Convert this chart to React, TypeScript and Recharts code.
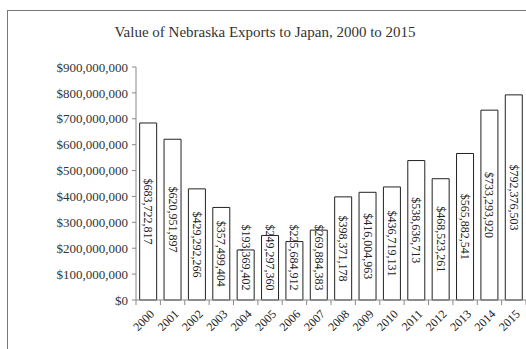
import { Bar, BarChart, LabelList, XAxis, YAxis } from "recharts";

const years = [
  "2000", "2001", "2002", "2003", "2004", "2005", "2006", "2007",
  "2008", "2009", "2010", "2011", "2012", "2013", "2014", "2015",
];
const exportValues = [
  683722817, 620951897, 429292266, 357499404, 193369402, 249297360,
  225684912, 269884383, 398371178, 416004963, 436719131, 538636713,
  468523261, 565882541, 733293920, 792376503,
];
const yTicks = [0, 100000000, 200000000, 300000000, 400000000, 500000000, 600000000, 700000000, 800000000, 900000000];

const data = years.map((year, i) => ({ year, value: exportValues[i] }));

const FONT = "'Liberation Serif', 'Times New Roman', serif";
const PLOT_LEFT = 136;
const PLOT_RIGHT = 526;
const PLOT_BOTTOM = 300;
const band = (PLOT_RIGHT - PLOT_LEFT) / years.length;

const money = (v: number) => "$" + v.toLocaleString("en-US");

function ValueLabel(props: any) {
  const { x, y, width, height, value } = props;
  const text = money(value);
  const len = text.length * 5.9;
  const cx = x + width / 2;
  let cy = y + height / 2;
  if (cy + len / 2 > PLOT_BOTTOM - 7) cy = PLOT_BOTTOM - 7 - len / 2;
  return (
    <text
      x={cx}
      y={cy}
      transform={`rotate(90 ${cx} ${cy})`}
      textAnchor="middle"
      dominantBaseline="central"
      fontFamily={FONT}
      fontSize={12}
      fill="#222"
    >
      {text}
    </text>
  );
}

function YearTick(props: any) {
  const { x, y, payload, index } = props;
  return (
    <g>
      <line x1={x - band / 2} y1={y - 8} x2={x - band / 2} y2={y - 3} stroke="#888" />
      {index === years.length - 1 && (
        <line x1={x + band / 2} y1={y - 8} x2={x + band / 2} y2={y - 3} stroke="#888" />
      )}
      <text
        x={x + 4}
        y={y + 4}
        transform={`rotate(-45 ${x + 4} ${y + 4})`}
        textAnchor="end"
        dominantBaseline="central"
        fontFamily={FONT}
        fontSize={12}
        fill="#222"
      >
        {payload.value}
      </text>
    </g>
  );
}

export default function App() {
  return (
    <div
      style={{
        position: "fixed",
        top: 0,
        left: 0,
        width: 526,
        height: 349,
        overflow: "hidden",
        background: "#fff",
      }}
    >
      <div
        style={{
          position: "absolute",
          left: 7,
          top: 10,
          width: 560,
          height: 400,
          borderLeft: "1px solid #777",
          borderTop: "1px solid #777",
        }}
      />
      <div
        style={{
          position: "absolute",
          top: 24,
          left: 0,
          width: 530,
          textAlign: "center",
          fontFamily: FONT,
          fontSize: 15,
          color: "#333",
        }}
      >
        Value of Nebraska Exports to Japan, 2000 to 2015
      </div>
      <div style={{ position: "absolute", top: 0, left: 0 }}>
        <BarChart
          width={526}
          height={349}
          data={data}
          margin={{ top: 67, right: 0, left: 0, bottom: 0 }}
          barCategoryGap="15%"
        >
          <XAxis
            dataKey="year"
            interval={0}
            height={49}
            stroke="#888"
            tickLine={false}
            tick={<YearTick />}
          />
          <YAxis
            width={PLOT_LEFT}
            domain={[0, 900000000]}
            ticks={yTicks}
            interval={0}
            stroke="#888"
            tickSize={4}
            tickMargin={4}
            tickFormatter={money}
            tick={{ fontFamily: FONT, fontSize: 13, fill: "#333" }}
          />
          <Bar dataKey="value" fill="#fff" stroke="#222" strokeWidth={1} isAnimationActive={false}>
            <LabelList dataKey="value" content={<ValueLabel />} />
          </Bar>
        </BarChart>
      </div>
    </div>
  );
}
